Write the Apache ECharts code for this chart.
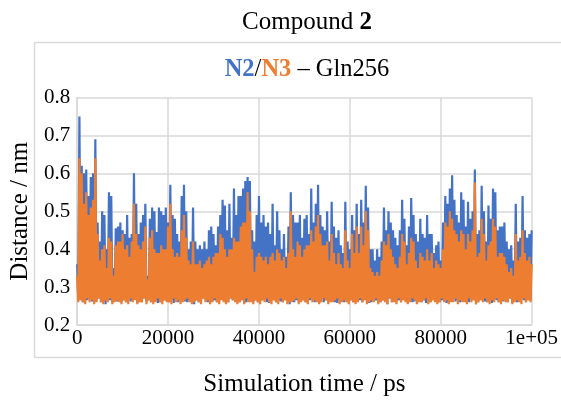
<!DOCTYPE html>
<html>
<head>
<meta charset="utf-8">
<script src="https://cdn.jsdelivr.net/npm/echarts@6/dist/echarts.min.js"></script>
<style>html,body{margin:0;padding:0;background:#fff;}#c{width:561px;height:402px;}</style>
</head>
<body>
<div id="c"></div>
<script>
// Time axis: peaks sampled every 500 ps (k*500), troughs in between (k*500+250)
var xStep = 500;
var xTicks = [0, 20000, 40000, 60000, 80000, 100000];
var xTickLabels = ['0', '20000', '40000', '60000', '80000', '1e+05'];
var yTicks = [0.2, 0.3, 0.4, 0.5, 0.6, 0.7, 0.8];

// N2 (blue) local maxima
var n2Peaks = [
0.36,0.75,0.62,0.60,0.61,0.54,0.59,0.60,0.69,0.47,
0.42,0.50,0.49,0.40,0.55,0.54,0.35,0.455,0.46,0.47,
0.45,0.44,0.49,0.43,0.44,0.60,0.52,0.44,0.47,0.49,
0.52,0.33,0.48,0.51,0.50,0.445,0.51,0.50,0.49,0.51,
0.47,0.57,0.49,0.48,0.44,0.42,0.54,0.57,0.50,0.40,
0.42,0.51,0.42,0.40,0.41,0.40,0.42,0.40,0.45,0.46,
0.44,0.41,0.46,0.49,0.53,0.515,0.45,0.52,0.43,0.56,
0.49,0.54,0.54,0.56,0.58,0.59,0.58,0.45,0.42,0.49,
0.54,0.47,0.49,0.46,0.47,0.44,0.52,0.41,0.50,0.45,
0.40,0.44,0.38,0.46,0.55,0.49,0.47,0.47,0.49,0.43,
0.48,0.49,0.44,0.56,0.47,0.52,0.57,0.49,0.46,0.45,
0.50,0.42,0.525,0.46,0.43,0.45,0.41,0.39,0.525,0.42,
0.40,0.49,0.45,0.52,0.44,0.53,0.47,0.567,0.51,0.40,
0.40,0.37,0.40,0.38,0.42,0.51,0.45,0.50,0.47,0.45,
0.43,0.41,0.45,0.53,0.48,0.41,0.46,0.535,0.49,0.44,
0.42,0.48,0.44,0.43,0.49,0.44,0.44,0.39,0.41,0.42,
0.37,0.47,0.54,0.52,0.56,0.595,0.53,0.49,0.47,0.55,
0.53,0.46,0.525,0.48,0.50,0.61,0.44,0.45,0.567,0.50,
0.42,0.515,0.48,0.56,0.55,0.45,0.46,0.46,0.47,0.42,
0.40,0.41,0.37,0.52,0.42,0.43,0.54,0.45,0.43,0.44,
0.45
];
// N2 (blue) local minima
var n2Troughs = [
0.27,0.265,0.26,0.258,0.265,0.27,0.262,0.26,0.265,0.27,0.26,0.265,0.255,0.27,0.265,0.26,0.27,0.262,0.265,0.26,
0.265,0.26,0.27,0.262,0.265,0.27,0.258,0.265,0.26,0.27,0.262,0.265,0.26,0.27,0.265,0.258,0.26,0.27,0.265,0.262,
0.26,0.265,0.258,0.27,0.26,0.265,0.27,0.262,0.26,0.265,0.27,0.255,0.265,0.26,0.262,0.27,0.265,0.26,0.27,0.262,
0.265,0.26,0.262,0.27,0.265,0.258,0.26,0.27,0.265,0.262,0.27,0.26,0.265,0.258,0.26,0.265,0.27,0.262,0.265,0.26,
0.262,0.265,0.27,0.26,0.258,0.265,0.27,0.26,0.265,0.262,0.26,0.27,0.265,0.255,0.27,0.26,0.265,0.262,0.27,0.265,
0.26,0.262,0.265,0.27,0.26,0.265,0.258,0.27,0.26,0.265,0.262,0.27,0.265,0.26,0.258,0.265,0.27,0.26,0.27,0.262,
0.265,0.26,0.27,0.262,0.265,0.26,0.27,0.265,0.258,0.26,0.27,0.265,0.262,0.26,0.265,0.27,0.255,0.27,0.26,0.265,
0.262,0.265,0.26,0.27,0.27,0.258,0.265,0.26,0.262,0.27,0.265,0.26,0.265,0.258,0.27,0.26,0.27,0.265,0.262,0.26,
0.265,0.27,0.258,0.26,0.265,0.27,0.262,0.265,0.26,0.27,0.262,0.265,0.26,0.27,0.265,0.255,0.26,0.27,0.265,0.262,
0.26,0.265,0.258,0.27,0.265,0.26,0.27,0.262,0.265,0.26,0.27,0.258,0.265,0.26,0.262,0.27,0.265,0.26,0.27,0.265
];
// N3 (orange) local maxima
var n3Peaks = [
0.33,0.64,0.60,0.52,0.55,0.49,0.51,0.53,0.64,0.44,
0.37,0.40,0.41,0.35,0.43,0.42,0.33,0.41,0.42,0.42,
0.44,0.40,0.41,0.38,0.42,0.52,0.44,0.41,0.40,0.42,
0.46,0.32,0.43,0.45,0.40,0.39,0.39,0.41,0.40,0.40,
0.46,0.52,0.40,0.38,0.39,0.38,0.45,0.49,0.43,0.37,
0.36,0.42,0.36,0.36,0.37,0.35,0.36,0.37,0.38,0.36,
0.38,0.39,0.39,0.44,0.43,0.40,0.38,0.40,0.40,0.43,
0.42,0.42,0.46,0.47,0.47,0.55,0.50,0.40,0.34,0.38,
0.39,0.38,0.37,0.38,0.36,0.38,0.39,0.37,0.40,0.39,
0.37,0.38,0.35,0.39,0.50,0.40,0.38,0.42,0.41,0.38,
0.40,0.41,0.41,0.45,0.42,0.46,0.49,0.44,0.41,0.41,
0.42,0.37,0.44,0.39,0.36,0.39,0.36,0.35,0.45,0.37,
0.35,0.44,0.39,0.46,0.39,0.46,0.41,0.50,0.45,0.35,
0.34,0.33,0.34,0.33,0.37,0.42,0.41,0.44,0.40,0.38,
0.36,0.35,0.38,0.44,0.42,0.36,0.39,0.43,0.42,0.37,
0.35,0.39,0.38,0.37,0.40,0.37,0.39,0.35,0.37,0.36,
0.35,0.40,0.47,0.46,0.50,0.48,0.45,0.44,0.42,0.45,
0.44,0.40,0.44,0.42,0.45,0.576,0.38,0.39,0.48,0.44,
0.37,0.41,0.42,0.48,0.46,0.38,0.39,0.39,0.38,0.36,
0.34,0.35,0.33,0.44,0.37,0.38,0.45,0.39,0.37,0.38,
0.36
];
// N3 (orange) local minima
var n3Troughs = [
0.26,0.265,0.26,0.255,0.27,0.26,0.265,0.255,0.26,0.27,0.26,0.255,0.265,0.26,0.27,0.255,0.26,0.265,0.26,0.255,
0.265,0.26,0.255,0.27,0.26,0.265,0.255,0.26,0.26,0.27,0.255,0.265,0.26,0.255,0.26,0.27,0.26,0.255,0.265,0.26,
0.26,0.255,0.27,0.26,0.265,0.255,0.26,0.265,0.27,0.26,0.255,0.26,0.265,0.26,0.255,0.27,0.26,0.265,0.255,0.26,
0.27,0.26,0.255,0.265,0.26,0.255,0.26,0.27,0.265,0.26,0.255,0.26,0.265,0.255,0.27,0.26,0.26,0.255,0.265,0.26,
0.255,0.265,0.26,0.27,0.26,0.255,0.265,0.26,0.255,0.27,0.26,0.265,0.255,0.26,0.26,0.265,0.27,0.255,0.26,0.265,
0.26,0.255,0.27,0.26,0.265,0.26,0.255,0.26,0.27,0.265,0.255,0.26,0.26,0.265,0.27,0.255,0.26,0.265,0.26,0.255,
0.265,0.26,0.255,0.26,0.27,0.26,0.265,0.255,0.26,0.265,0.26,0.27,0.255,0.26,0.265,0.26,0.255,0.27,0.26,0.26,
0.255,0.27,0.26,0.265,0.26,0.255,0.26,0.27,0.265,0.255,0.26,0.26,0.265,0.27,0.255,0.26,0.265,0.26,0.255,0.26,
0.27,0.26,0.265,0.255,0.26,0.26,0.27,0.255,0.265,0.26,0.26,0.255,0.27,0.26,0.265,0.255,0.26,0.265,0.26,0.27,
0.26,0.255,0.265,0.26,0.27,0.26,0.255,0.265,0.26,0.26,0.27,0.255,0.26,0.265,0.26,0.255,0.27,0.26,0.265,0.26
];

function buildSeries(peaks, troughs) {
  var out = [];
  for (var i = 0; i < peaks.length; i++) {
    out.push([i * xStep, peaks[i]]);
    if (i < troughs.length) out.push([i * xStep + xStep / 2, troughs[i]]);
  }
  return out;
}

var FONT = '"Liberation Serif", "Times New Roman", serif';
var BLUE = '#4472C4', ORANGE = '#ED7D31', GRID = '#d9d9d9';

var chart = echarts.init(document.getElementById('c'), null, {renderer: 'canvas'});
chart.setOption({
  animation: false,
  backgroundColor: '#fff',
  textStyle: {fontFamily: FONT},
  title: [
    {
      text: 'Compound {b|2}', left: 302, top: 5, textAlign: 'center',
      textStyle: {fontFamily: FONT, fontSize: 25, fontWeight: 'normal', color: '#000',
        rich: {b: {fontFamily: FONT, fontSize: 25, fontWeight: 'bold', color: '#000'}}}
    },
    {
      text: '{b|N2}/{o|N3} – Gln256', left: 302, top: 52, textAlign: 'center',
      textStyle: {fontFamily: FONT, fontSize: 24.5, fontWeight: 'normal', color: '#000',
        rich: {
          b: {fontFamily: FONT, fontSize: 24.5, fontWeight: 'bold', color: BLUE},
          o: {fontFamily: FONT, fontSize: 24.5, fontWeight: 'bold', color: ORANGE}
        }}
    }
  ],
  graphic: [{
    type: 'rect', z: -10, silent: true,
    shape: {x: 34.5, y: 42.5, width: 540, height: 315},
    style: {fill: 'none', stroke: GRID, lineWidth: 1.5}
  }],
  grid: {left: 75, right: 27, top: 97.5, bottom: 74, containLabel: false},
  xAxis: {
    type: 'value', min: 0, max: 100000, interval: 20000,
    name: 'Simulation time / ps', nameLocation: 'middle', nameGap: 47,
    nameTextStyle: {fontFamily: FONT, fontSize: 25, color: '#000'},
    axisLine: {show: true, lineStyle: {color: GRID, width: 1.5}},
    axisTick: {show: false},
    splitLine: {show: true, lineStyle: {color: GRID, width: 1.5}},
    axisLabel: {fontFamily: FONT, fontSize: 21, color: '#000', margin: 3,
      formatter: function (v) { var i = xTicks.indexOf(v); return i >= 0 ? xTickLabels[i] : ''; }}
  },
  yAxis: {
    type: 'value', min: 0.2, max: 0.8, interval: 0.1,
    name: 'Distance / nm', nameLocation: 'middle', nameGap: 42,
    nameTextStyle: {fontFamily: FONT, fontSize: 25, color: '#000'},
    axisLine: {show: true, lineStyle: {color: GRID, width: 1.5}},
    axisTick: {show: false},
    splitLine: {show: true, lineStyle: {color: GRID, width: 1.5}},
    axisLabel: {fontFamily: FONT, fontSize: 21, color: '#000', margin: 7,
      formatter: function (v) { return v.toFixed(1); }}
  },
  series: [
    {name: 'N2', type: 'line', showSymbol: false, symbol: 'none', sampling: null,
     data: buildSeries(n2Peaks, n2Troughs), lineStyle: {color: BLUE, width: 2.2}, z: 2},
    {name: 'N3', type: 'line', showSymbol: false, symbol: 'none', sampling: null,
     data: buildSeries(n3Peaks, n3Troughs), lineStyle: {color: ORANGE, width: 2.2}, z: 3}
  ]
});
</script>
</body>
</html>
